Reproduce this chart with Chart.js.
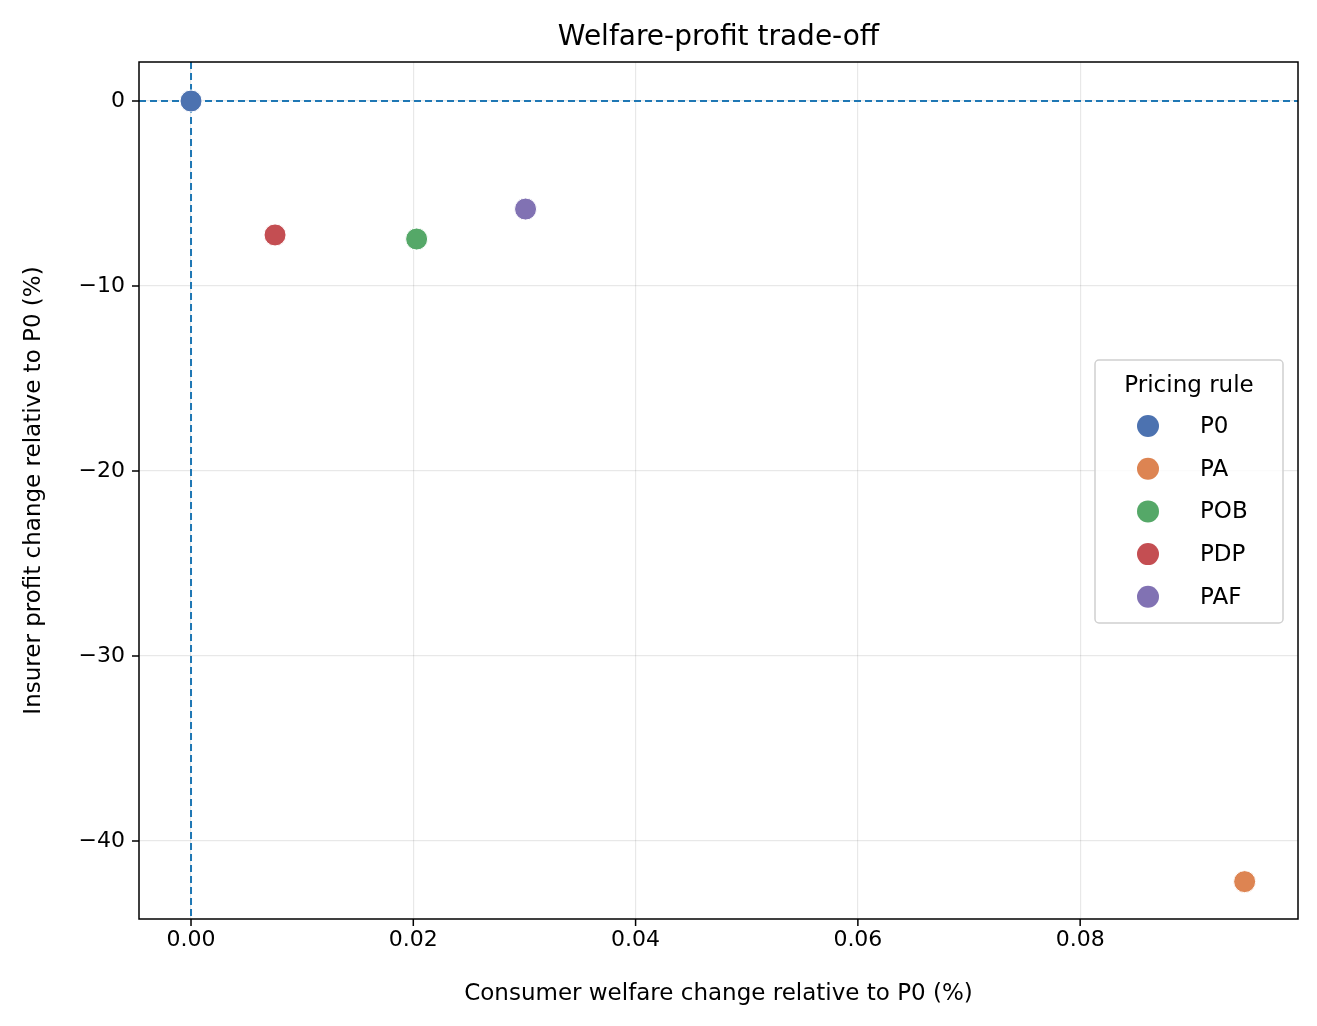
<!DOCTYPE html>
<html>
<head>
<meta charset="utf-8">
<script src="https://cdn.jsdelivr.net/npm/chart.js@4"></script>
<style>body{margin:0;background:#fff}canvas{display:block}</style>
</head>
<body>
<canvas id="c" width="1317" height="1026"></canvas>
<script>
// Data
const rules = ['P0', 'PA', 'POB', 'PDP', 'PAF'];
const welfare = [0.0, 0.0948, 0.0203, 0.00756, 0.0301];
const profit = [0.0, -42.2, -7.46, -7.24, -5.84];
const colors = ['#4C72B0', '#DD8452', '#55A868', '#C44E52', '#8172B3'];
const xTicks = [0, 0.02, 0.04, 0.06, 0.08];
const yTicks = [-40, -30, -20, -10, 0];

const font = 'DejaVu Sans';

// Frame, zero lines, ticks, titles and legend drawn like matplotlib
const decor = {
    id: 'decor',
    beforeDatasetsDraw(chart) {
        const {ctx, chartArea: a, scales: {x, y}} = chart;
        ctx.save();
        ctx.strokeStyle = '#1f77b4';
        ctx.lineWidth = 2;
        ctx.setLineDash([7, 4]);
        ctx.beginPath();
        ctx.moveTo(x.getPixelForValue(0), a.top);
        ctx.lineTo(x.getPixelForValue(0), a.bottom);
        ctx.moveTo(a.left, y.getPixelForValue(0));
        ctx.lineTo(a.right, y.getPixelForValue(0));
        ctx.stroke();
        ctx.restore();
    },
    afterDraw(chart) {
        const {ctx, chartArea: a, scales: {x, y}} = chart;
        ctx.save();
        ctx.strokeStyle = '#000';
        ctx.lineWidth = 1.5;
        ctx.strokeRect(a.left, a.top, a.right - a.left, a.bottom - a.top);
        ctx.beginPath();
        xTicks.forEach(v => {
            const px = x.getPixelForValue(v);
            ctx.moveTo(px, a.bottom);
            ctx.lineTo(px, a.bottom + 7);
        });
        yTicks.forEach(v => {
            const py = y.getPixelForValue(v);
            ctx.moveTo(a.left, py);
            ctx.lineTo(a.left - 7, py);
        });
        ctx.stroke();

        ctx.fillStyle = '#000';
        ctx.font = `28px "${font}"`;
        ctx.textAlign = 'center';
        ctx.textBaseline = 'alphabetic';
        ctx.fillText('Welfare-profit trade-off', (a.left + a.right) / 2, 45);

        ctx.font = `23px "${font}"`;
        ctx.fillText('Consumer welfare change relative to P0 (%)', (a.left + a.right) / 2, 1000);
        ctx.save();
        ctx.translate(40, (a.top + a.bottom) / 2);
        ctx.rotate(-Math.PI / 2);
        ctx.fillText('Insurer profit change relative to P0 (%)', 0, 0);
        ctx.restore();

        // legend
        const lx = 1095, ly = 360, lw = 188, lh = 263;
        ctx.fillStyle = 'rgba(255,255,255,0.8)';
        ctx.strokeStyle = '#d0d0d0';
        ctx.lineWidth = 1.5;
        ctx.beginPath();
        ctx.roundRect(lx, ly, lw, lh, 4);
        ctx.fill();
        ctx.stroke();
        ctx.fillStyle = '#000';
        ctx.font = `23px "${font}"`;
        ctx.fillText('Pricing rule', lx + lw / 2, ly + 32);
        ctx.textAlign = 'left';
        rules.forEach((r, i) => {
            const yy = 426 + i * 42.7;
            ctx.fillStyle = colors[i];
            ctx.beginPath();
            ctx.arc(1148, yy, 11, 0, Math.PI * 2);
            ctx.fill();
            ctx.fillStyle = '#000';
            ctx.textBaseline = 'middle';
            ctx.fillText(r, 1200, yy + 1);
        });
        ctx.restore();
    }
};

new Chart(document.getElementById('c'), {
    type: 'scatter',
    data: {
        datasets: rules.map((r, i) => ({
            label: r,
            data: [{x: welfare[i], y: profit[i]}],
            backgroundColor: colors[i],
            borderColor: '#ffffff',
            borderWidth: 1,
            pointRadius: 11,
            pointHoverRadius: 11
        }))
    },
    options: {
        responsive: false,
        animation: false,
        devicePixelRatio: 1,
        layout: {padding: {top: 62, right: 19, left: 0, bottom: 0}},
        plugins: {legend: {display: false}, tooltip: {enabled: false}},
        scales: {
            x: {
                type: 'linear',
                min: -0.00468,
                max: 0.0996,
                afterBuildTicks: s => { s.ticks = xTicks.map(v => ({value: v})); },
                afterFit: s => { s.height = 107; },
                ticks: {
                    callback: v => v.toFixed(2),
                    color: '#000',
                    font: {family: font, size: 22},
                    padding: 8,
                    maxRotation: 0
                },
                grid: {color: 'rgba(0,0,0,0.09)', drawTicks: false, lineWidth: 1.2},
                border: {display: false}
            },
            y: {
                type: 'linear',
                min: -44.22,
                max: 2.11,
                afterBuildTicks: s => { s.ticks = yTicks.map(v => ({value: v})); },
                afterFit: s => { s.width = 139; },
                ticks: {
                    callback: v => (v < 0 ? '\u2212' + Math.abs(v) : '' + v),
                    color: '#000',
                    font: {family: font, size: 22},
                    padding: 14
                },
                grid: {color: 'rgba(0,0,0,0.09)', drawTicks: false, lineWidth: 1.2},
                border: {display: false}
            }
        }
    },
    plugins: [decor]
});
</script>
</body>
</html>
